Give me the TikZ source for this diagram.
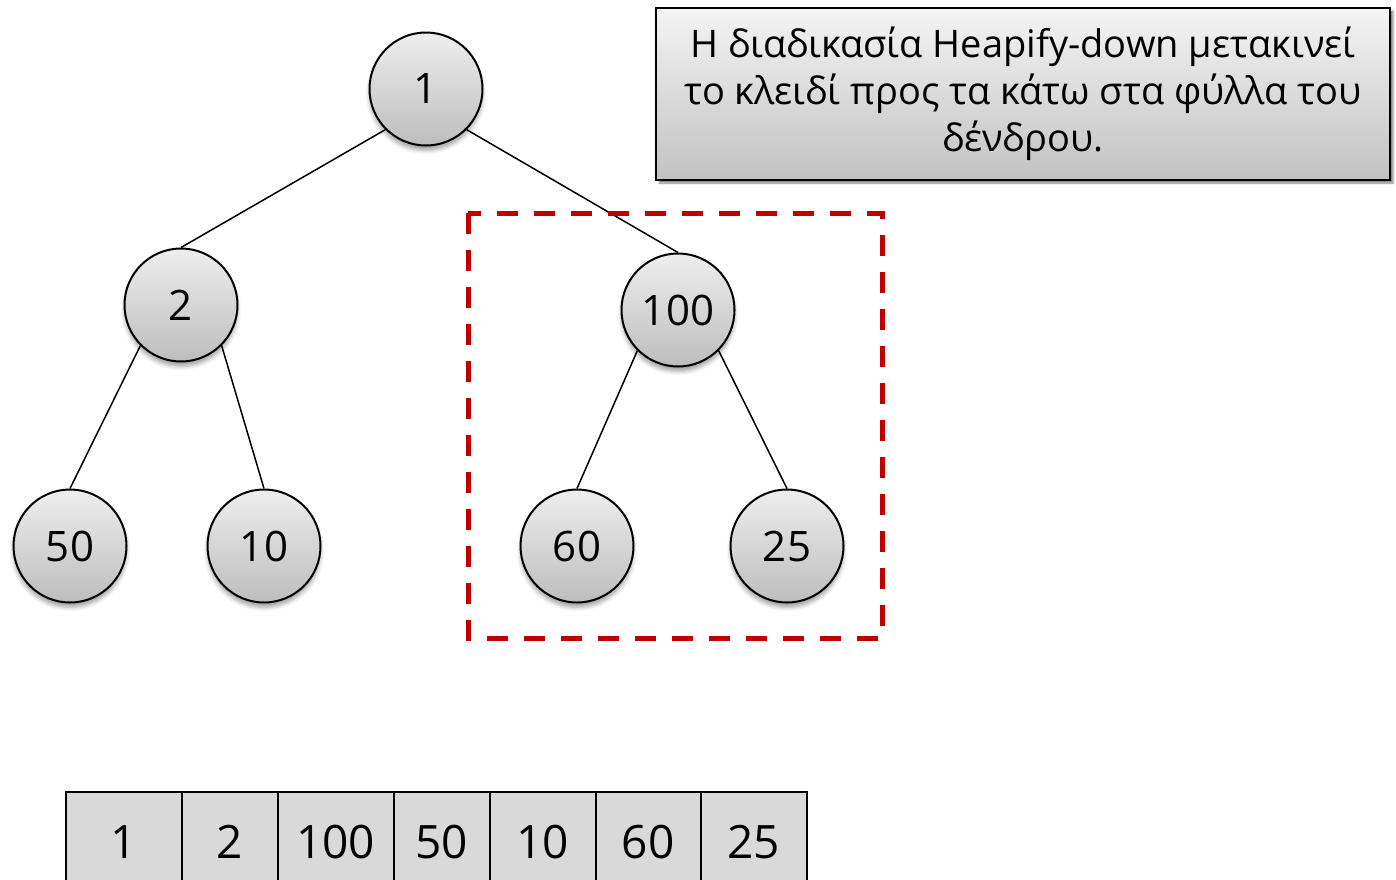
\documentclass[tikz,border=0pt]{standalone}
\usepackage{fontspec}
\setmainfont{Open Sans}
\usetikzlibrary{shadows.blur}
\definecolor{dashred}{HTML}{C00000}
\definecolor{cellgray}{HTML}{D9D9D9}
\definecolor{keytop}{HTML}{EEEEEE}
\definecolor{keybot}{HTML}{BDBDBD}
\definecolor{notetop}{HTML}{F4F4F4}
\definecolor{notebot}{HTML}{C2C2C2}
\begin{document}
\begin{tikzpicture}[x=1pt,y=1pt,
  key/.style={circle, draw=black, line width=2pt, minimum size=113pt, inner sep=0pt,
    top color=keytop, bottom color=keybot,
    font=\fontsize{42}{50}\selectfont,
    blur shadow={shadow xshift=0pt, shadow yshift=-5pt, shadow blur radius=4pt, shadow opacity=35}},
  link/.style={line width=1.5pt},
  cell/.style={draw=black, line width=1.5pt, fill=cellgray, anchor=north west,
    minimum height=100pt, inner sep=0pt, text depth=0pt,
    font=\fontsize{46}{54}\selectfont},
  notebox/.style={draw=black, line width=2pt, top color=notetop, bottom color=notebot,
    minimum width=734pt, minimum height=172pt, align=center, inner sep=0pt,
    font=\fontsize{38}{47}\selectfont,
    blur shadow={shadow xshift=3pt, shadow yshift=-3pt, shadow blur radius=2pt, shadow opacity=50}},
  focus/.style={draw=dashred, line width=5pt, dash pattern=on 21pt off 16pt}
]
\clip (0,0) rectangle (1396,-879);

% tree
\node[key] (k1)   at (426,-89)  {1};
\node[key] (k2)   at (181,-305) {2};
\node[key] (k100) at (678,-310) {100};
\node[key] (k50)  at (70,-546)  {50};
\node[key] (k10)  at (264,-546) {10};
\node[key] (k60)  at (577,-546) {60};
\node[key] (k25)  at (787,-546) {25};

\draw[link] (k1.south west) -- (k2.north);
\draw[link] (k1.south east) -- (k100.north);
\draw[link] (k2.south west) -- (k50.north);
\draw[link] (k2.south east) -- (k10.north);
\draw[link] (k100.south west) -- (k60.north);
\draw[link] (k100.south east) -- (k25.north);

% highlighted subtree
\coordinate (fa) at (468,-213);
\coordinate (fb) at (882,-638);
\draw[focus] (fa) rectangle (fb);

% caption
\node[notebox] (note) at (1023,-94)
  {Η διαδικασία Heapify-down μετακινεί\\
   το κλειδί προς τα κάτω στα φύλλα του\\
   δένδρου.};

% array representation
\node[cell, minimum width=116pt] (c1) at (65,-791)  {1};
\node[cell, minimum width=96pt]  (c2) at (181,-791) {2};
\node[cell, minimum width=116pt] (c3) at (277,-791) {100};
\node[cell, minimum width=96pt]  (c4) at (393,-791) {50};
\node[cell, minimum width=106pt] (c5) at (489,-791) {10};
\node[cell, minimum width=105pt] (c6) at (595,-791) {60};
\node[cell, minimum width=106pt] (c7) at (700,-791) {25};
\end{tikzpicture}
\end{document}
